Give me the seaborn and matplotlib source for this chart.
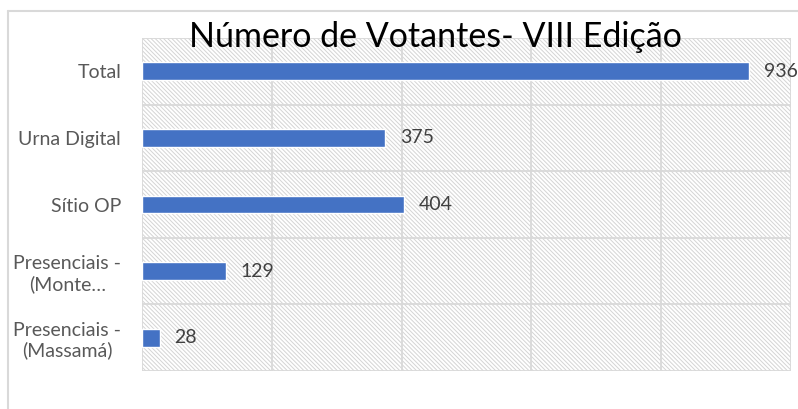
import matplotlib
matplotlib.use("Agg")
import matplotlib.pyplot as plt
from matplotlib.patches import Rectangle
from matplotlib.lines import Line2D
import seaborn as sns
import pandas as pd
import numpy as np

categories = ["Total", "Urna Digital", "Sítio OP", "Presenciais -\n(Monte…", "Presenciais -\n(Massamá)"]
votantes = [936, 375, 404, 129, 28]
x_ticks = [0, 200, 400, 600, 800, 1000]

sns.set_theme(style="white")
plt.rcParams["font.family"] = ["Lato", "DejaVu Sans"]
plt.rcParams["hatch.color"] = "#d4d4d4"
plt.rcParams["hatch.linewidth"] = 0.7

df = pd.DataFrame({"categoria": categories, "votantes": votantes})

fig = plt.figure(figsize=(7.98, 4.09), dpi=100)
ax = fig.add_axes([142 / 798, 1 - 371 / 409, (791 - 142) / 798, (371 - 38) / 409])

# hatched background of the plot area
ax.set_facecolor("white")
ax.add_patch(Rectangle((0, 0), 1, 1, transform=ax.transAxes, facecolor="white",
                       edgecolor="#d4d4d4", hatch="\\" * 8, linewidth=0, zorder=0))

sns.barplot(data=df, x="votantes", y="categoria", orient="h", color="#4472C4",
            width=0.27, saturation=1, ax=ax, zorder=3)

ax.set_xlim(0, 1000)
ax.set_ylim(4.5, -0.5)
ax.set_xticks(x_ticks)
ax.set_xticklabels([])
ax.tick_params(axis="x", length=0)

# category boundaries as minor ticks / horizontal grid
ax.set_yticks(np.arange(-0.5, 5, 1), minor=True)
ax.tick_params(axis="y", which="major", length=0, pad=15, labelsize=14, labelcolor="#595959")
ax.tick_params(axis="y", which="minor", length=5, width=1.2, color="#d9d9d9")
for lbl in ax.get_yticklabels():
    lbl.set_multialignment("center")
ax.grid(True, axis="x", which="major", color="#d9d9d9", linewidth=1.3, zorder=1)
ax.grid(True, axis="y", which="minor", color="#d9d9d9", linewidth=1.3, zorder=1)
ax.set_axisbelow(True)
ax.set_xlabel("")
ax.set_ylabel("")
for s in ax.spines.values():
    s.set_visible(False)

for i, v in enumerate(votantes):
    ax.text(v + 22, i, str(v), va="center", ha="left", fontsize=14, color="#404040", zorder=4)

fig.text(435 / 798, 1 - 37 / 409, "Número de Votantes- VIII Edição", ha="center", va="center",
         fontsize=24.5, color="#000000")

# outer chart frame
fig.add_artist(Line2D([8 / 798, 8 / 798], [0, 1 - 11 / 409], transform=fig.transFigure,
                      color="#d9d9d9", linewidth=1.5))
fig.add_artist(Line2D([8 / 798, 1], [1 - 11 / 409, 1 - 11 / 409], transform=fig.transFigure,
                      color="#d9d9d9", linewidth=1.5))

fig.savefig("out.png", dpi=100)
